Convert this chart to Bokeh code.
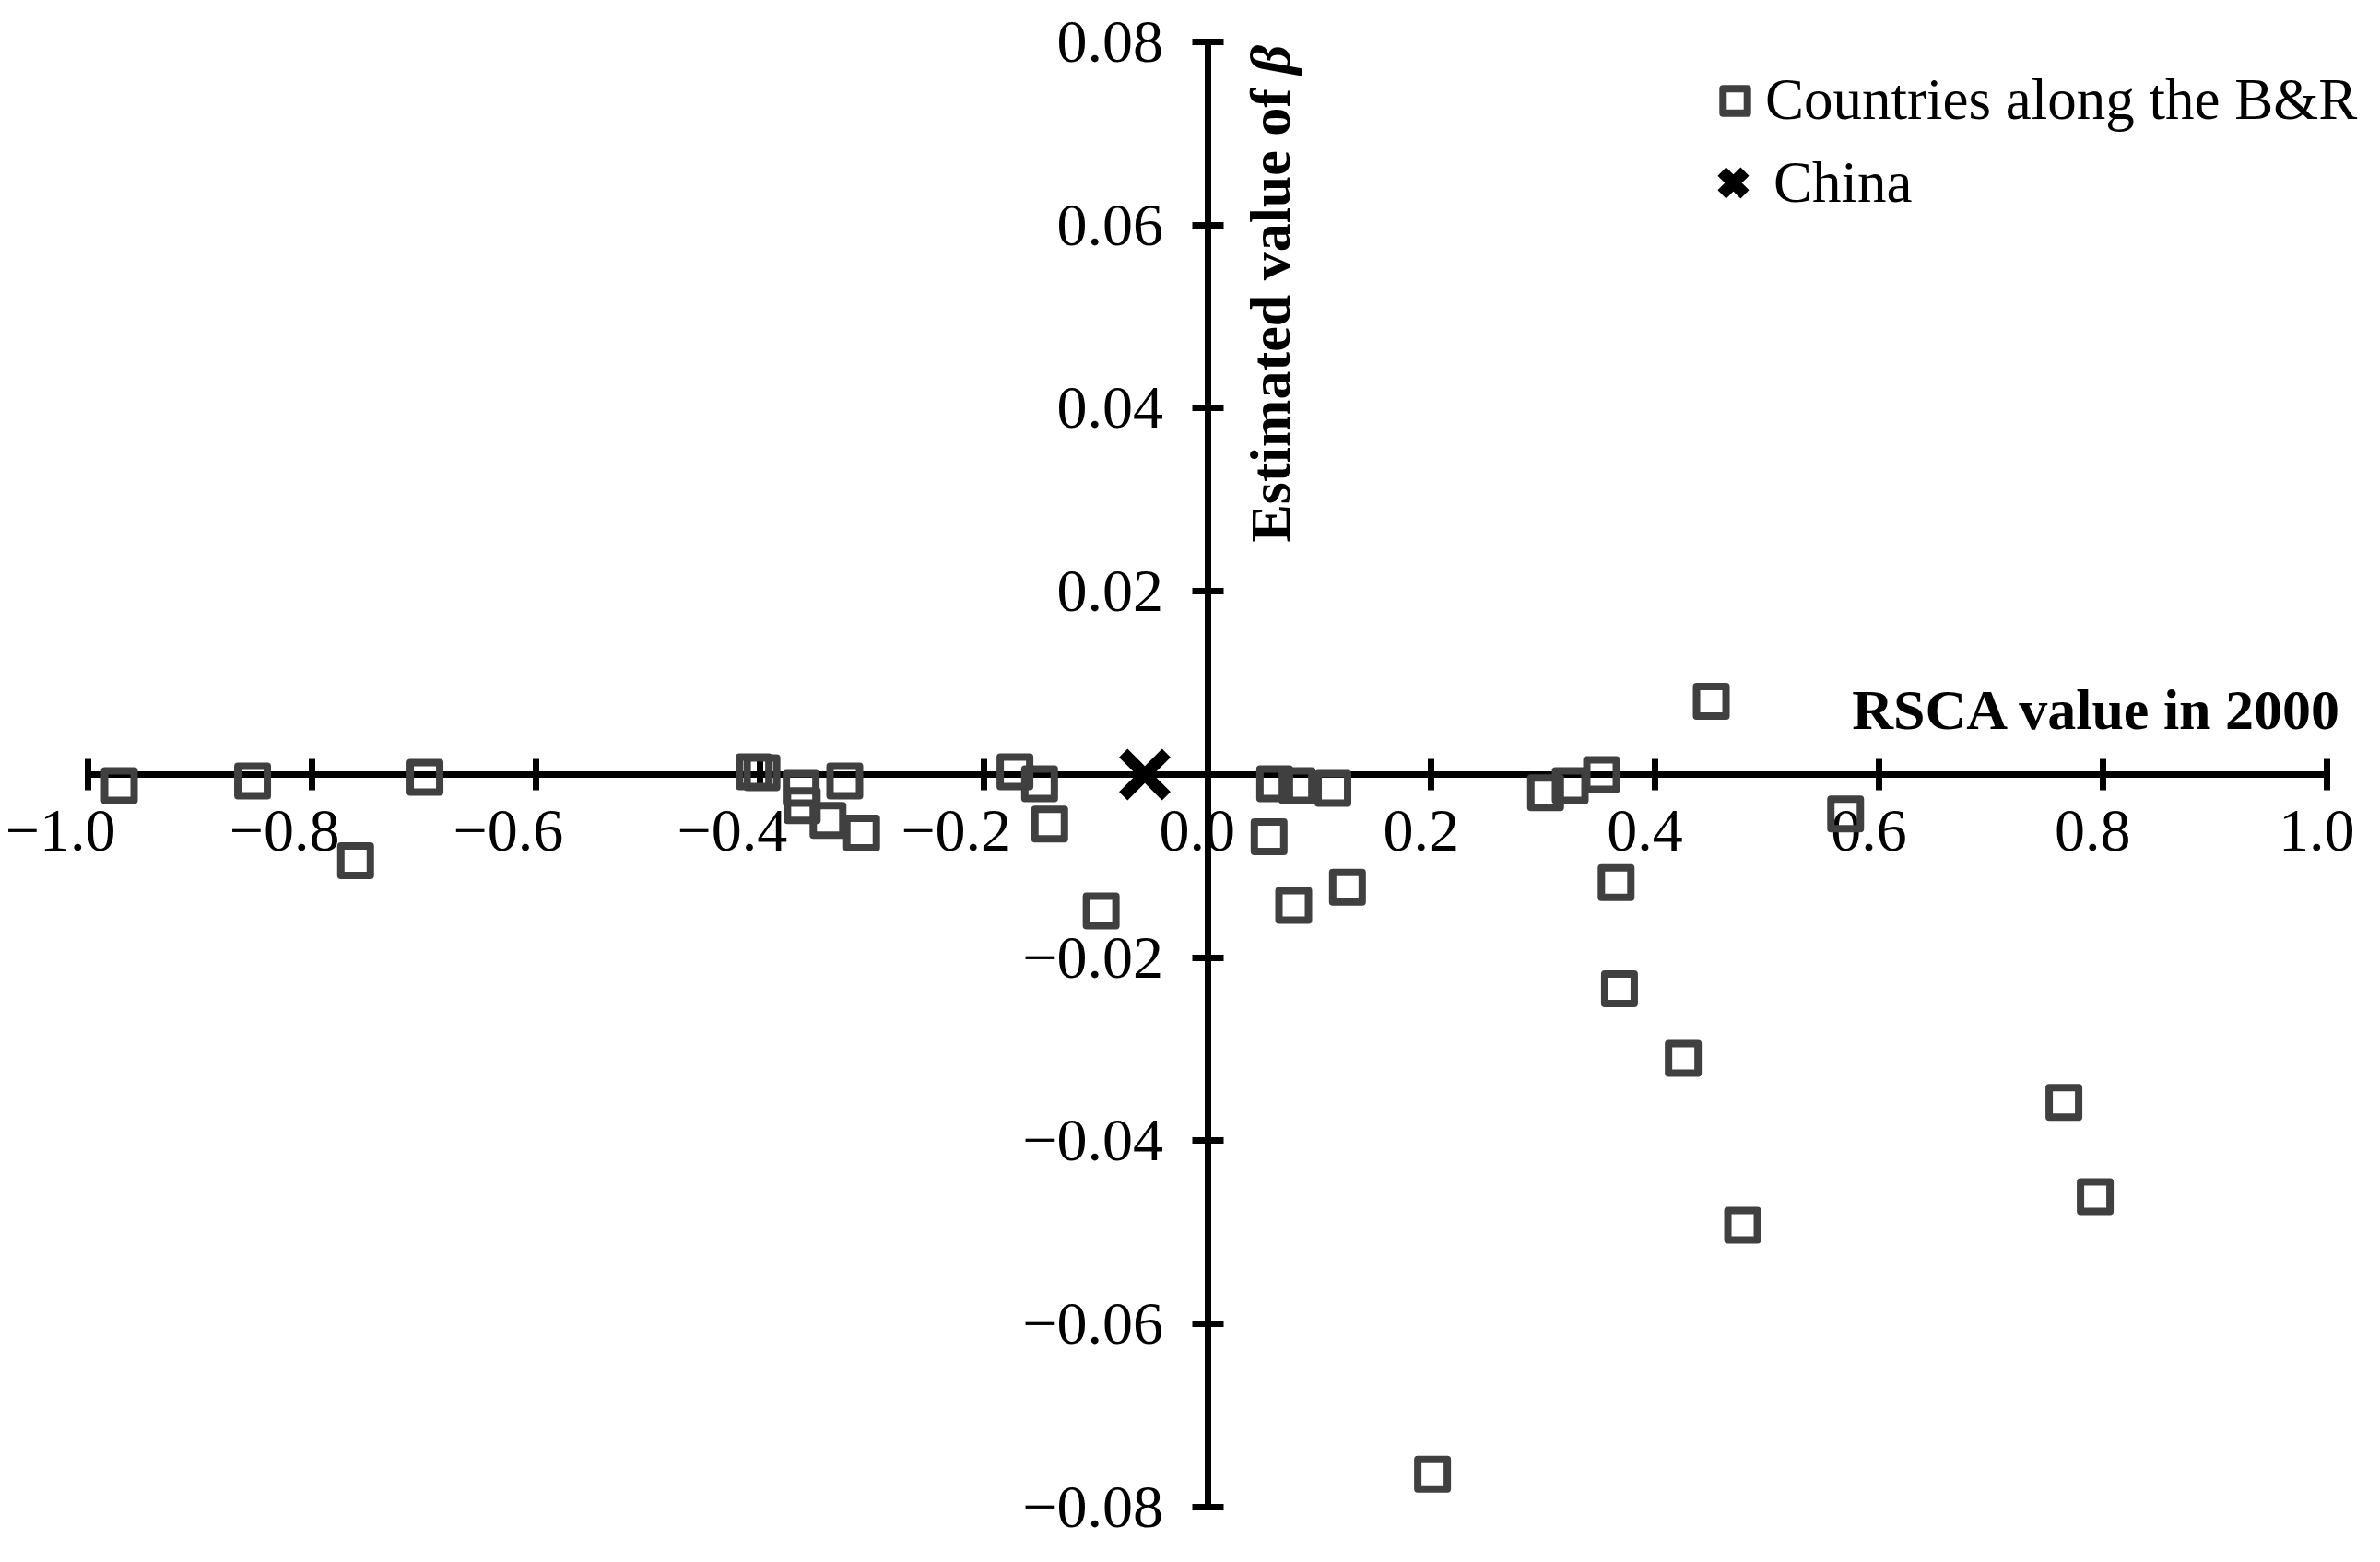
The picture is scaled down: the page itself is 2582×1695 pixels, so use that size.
from math import pi
from bokeh.plotting import figure
from bokeh.models import (Range1d, LinearAxis, FixedTicker, Label, Legend, LegendItem)
from bokeh.embed import file_html
from bokeh.resources import INLINE

# ---- data ----
countries_x = [-0.972, -0.853, -0.761, -0.699, -0.405, -0.398, -0.363, -0.362, -0.339, -0.324,
               -0.309, -0.172, -0.150, -0.141, -0.095, 0.055, 0.060, 0.077, 0.080, 0.112,
               0.125, 0.201, 0.302, 0.324, 0.352, 0.365, 0.368, 0.425, 0.450, 0.478,
               0.570, 0.765, 0.793]
countries_y = [-0.0012, -0.0007, -0.0094, -0.0003, 0.0003, 0.0002, -0.0015, -0.0034, -0.0050, -0.0007,
               -0.0064, 0.0003, -0.0010, -0.0054, -0.0149, -0.0068, -0.0010, -0.0143, -0.0012, -0.0015,
               -0.0123, -0.0764, -0.0020, -0.0012, 0.0000, -0.0118, -0.0234, -0.0310, 0.0080, -0.0492,
               -0.0043, -0.0358, -0.0461]
china_x = [-0.056]
china_y = [0.0]

x_tick_values = [-1.0, -0.8, -0.6, -0.4, -0.2, 0.0, 0.2, 0.4, 0.6, 0.8, 1.0]
x_tick_labels = ["\u22121.0", "\u22120.8", "\u22120.6", "\u22120.4", "\u22120.2", "0.0",
                 "0.2", "0.4", "0.6", "0.8", "1.0"]
y_tick_values = [-0.08, -0.06, -0.04, -0.02, 0.0, 0.02, 0.04, 0.06, 0.08]
y_tick_labels = ["\u22120.08", "\u22120.06", "\u22120.04", "\u22120.02", "",
                 "0.02", "0.04", "0.06", "0.08"]

x_title = "RSCA value in 2000"
y_title = "Estimated value of "
y_title_symbol = "\u03b2"
legend_labels = ["Countries along the B&R", "China"]

# ---- figure ----
W, H = 2564, 1676
p = figure(width=W, height=H, output_backend="svg", toolbar_location=None,
           x_range=Range1d(-1.078222, 1.032935), y_range=Range1d(-0.0841258, 0.0845283),
           x_axis_type=None, y_axis_type=None, min_border=0,
           background_fill_color="white", border_fill_color="white")
p.outline_line_color = None
p.grid.visible = False

SERIF = "Liberation Serif"
TICK_FONT = "66px"

xaxis = LinearAxis(ticker=FixedTicker(ticks=x_tick_values), fixed_location=0,
                   bounds=(x_tick_values[0], x_tick_values[-1]))
xaxis.major_label_overrides = {v: "" for v in x_tick_values}
yaxis = LinearAxis(ticker=FixedTicker(ticks=y_tick_values), fixed_location=0,
                   bounds=(y_tick_values[0], y_tick_values[-1]))
yaxis.major_label_overrides = {v: s for v, s in zip(y_tick_values, y_tick_labels)}
for ax in (xaxis, yaxis):
    ax.axis_line_width = 7
    ax.axis_line_color = "black"
    ax.major_tick_line_width = 7
    ax.major_tick_line_color = "black"
    ax.major_tick_in = 17
    ax.major_tick_out = 17
    ax.minor_tick_line_color = None
    ax.major_label_text_font = SERIF
    ax.major_label_text_font_size = TICK_FONT
    ax.major_label_text_color = "black"
xaxis.major_label_standoff = 15
yaxis.major_label_standoff = 31
p.add_layout(xaxis, "below")
p.add_layout(yaxis, "left")

# x tick labels (right-aligned just past each tick, as in the reference)
p.text(x=x_tick_values, y=[0.0] * len(x_tick_values), text=x_tick_labels,
       text_align="right", text_baseline="top", x_offset=30, y_offset=40,
       text_font=SERIF, text_font_size=TICK_FONT, text_color="black")

r_countries = p.scatter(countries_x, countries_y, marker="square", size=32, line_width=8,
                        line_color="#404040", fill_color=None, line_join="round",
                        level="annotation")
r_china = p.scatter(china_x, china_y, marker="x", size=66, line_width=13,
                    line_color="black", level="annotation")

# axis titles
p.add_layout(Label(x=1.0140, y=0.00714, text=x_title, text_align="right",
                   text_baseline="alphabetic", text_font=SERIF, text_font_style="bold",
                   text_font_size="62px", text_color="black"))
p.add_layout(Label(x=0.0556, y=0.07648, text=y_title, angle=pi / 2, text_align="right",
                   text_baseline="alphabetic", text_font=SERIF, text_font_style="bold",
                   text_font_size="62px", text_color="black"))
p.add_layout(Label(x=0.0556, y=0.07648, text=y_title_symbol, angle=pi / 2, text_align="left",
                   text_baseline="alphabetic", text_font=SERIF, text_font_style="bold italic",
                   text_font_size="62px", text_color="black"))

legend_style = dict(padding=0, margin=0, border_line_color=None, background_fill_alpha=0,
                    label_text_font=SERIF, label_text_font_size="63px",
                    label_text_color="black", label_standoff=0)
legend1 = Legend(items=[LegendItem(label=legend_labels[0], renderers=[r_countries])],
                 location=(1849, 1531), glyph_width=66, glyph_height=72, **legend_style)
legend2 = Legend(items=[LegendItem(label=legend_labels[1], renderers=[r_china])],
                 location=(1836, 1434), glyph_width=88, glyph_height=88, **legend_style)
p.add_layout(legend1)
p.add_layout(legend2)

open("out.html", "w").write(file_html(p, INLINE))
